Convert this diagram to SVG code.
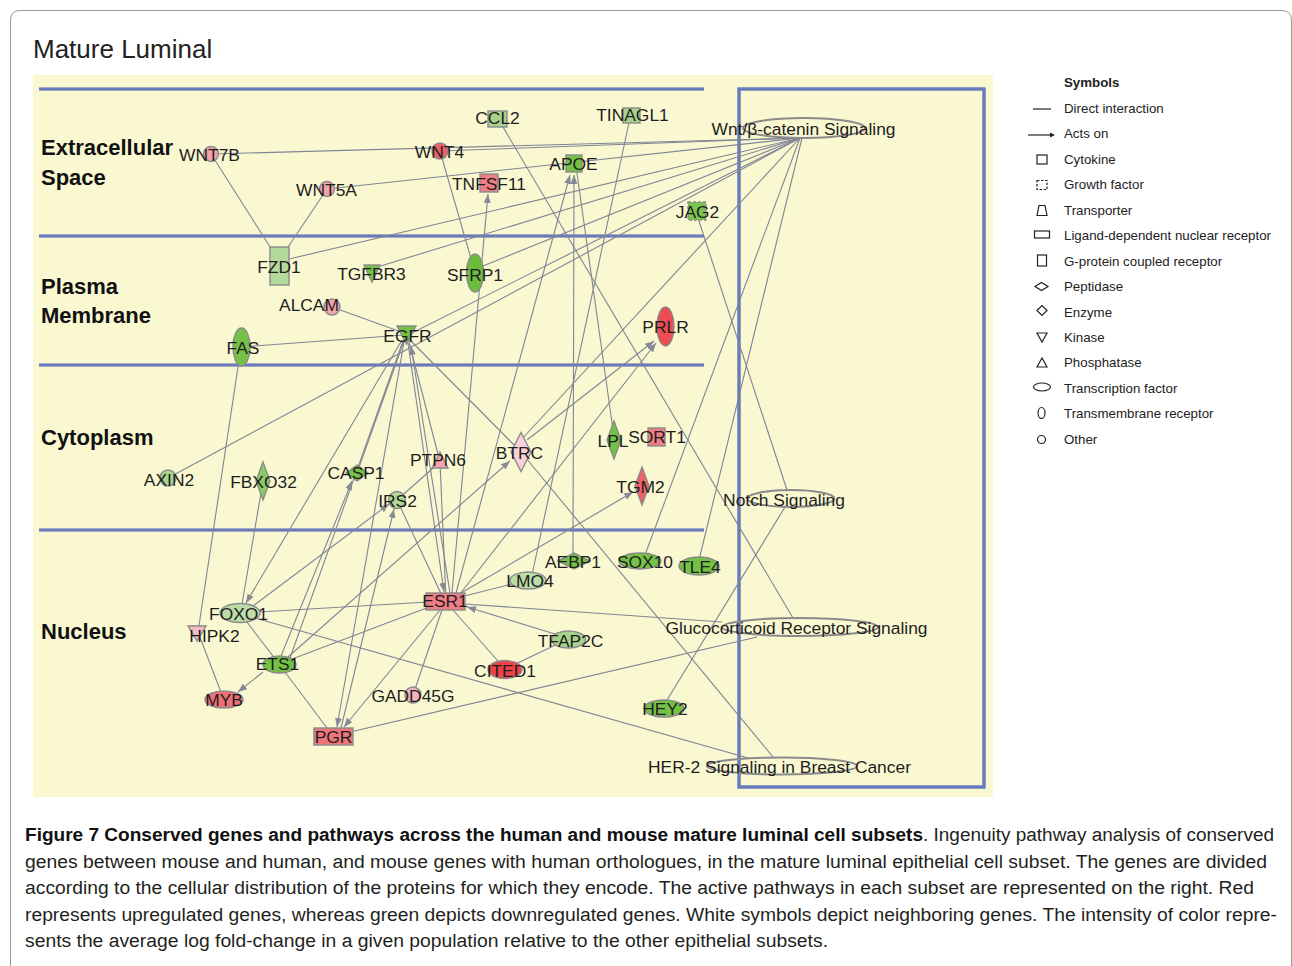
<svg xmlns="http://www.w3.org/2000/svg" width="1292" height="966" viewBox="0 0 1292 966">
<defs>
<marker id="ah" markerUnits="userSpaceOnUse" markerWidth="10" markerHeight="8" refX="9" refY="3.5" orient="auto"><path d="M0,0 L9,3.5 L0,7 z" fill="#858a96"/></marker>
<style>
.e{stroke:#7f8594;stroke-width:1.1;fill:none}
.a{stroke:#7f8594;stroke-width:1.1;fill:none;marker-end:url(#ah)}
.n{stroke:#8a8a8a;stroke-width:1.4}
.pw{fill:none;stroke:#8a8a8a;stroke-width:2}
.t{font-family:"Liberation Sans",Arial,sans-serif;font-size:17.4px;fill:#1e1e1e;text-anchor:middle}
.sec{font-family:"Liberation Sans",Arial,sans-serif;font-size:22px;font-weight:bold;fill:#111}
.d1{stroke:#4a60b0;stroke-width:3.2}
.d2{stroke:#8e9ccf;stroke-width:0.9}
.lg{font-family:"Liberation Sans",Arial,sans-serif;font-size:13.3px;fill:#222}
.li{fill:none;stroke:#222;stroke-width:1.2}
.cap{font-family:"Liberation Sans",Arial,sans-serif;font-size:18px;fill:#231f20}
.capb{font-family:"Liberation Sans",Arial,sans-serif;font-size:18px;font-weight:bold;fill:#111}
.pink{fill:#f4a3ab}.lpink{fill:#f8d0d9}.red{fill:#ee6268}.mred{fill:#f07d83}
.g{fill:#74c146}.lg1{fill:#a9d38d}.lg2{fill:#bcdca8}
</style>
</defs>
<rect x="0" y="0" width="1292" height="966" fill="#ffffff"/>
<path d="M10.5,980 L10.5,20 Q10.5,10.5 20,10.5 L1282,10.5 Q1291.5,10.5 1291.5,20 L1291.5,980" fill="none" stroke="#9a9a9a" stroke-width="1"/>
<text x="33" y="58" font-family="'Liberation Sans',Arial,sans-serif" font-size="26" fill="#222">Mature Luminal</text>
<rect x="33" y="75" width="960" height="722" fill="#faf8d1"/>
<g id="compartments">
<line class="d1" x1="39" y1="89" x2="704" y2="89" stroke="#6878b0"/><line class="d2" x1="39" y1="89" x2="704" y2="89"/>
<line class="d1" x1="39" y1="236" x2="704" y2="236"/><line class="d2" x1="39" y1="236" x2="704" y2="236"/>
<line class="d1" x1="39" y1="365" x2="704" y2="365"/><line class="d2" x1="39" y1="365" x2="704" y2="365"/>
<line class="d1" x1="39" y1="530" x2="704" y2="530"/><line class="d2" x1="39" y1="530" x2="704" y2="530"/>
<rect x="739" y="89" width="245" height="698" fill="none" class="d1"/>
<rect x="739" y="89" width="245" height="698" fill="none" class="d2"/>
<text class="sec" x="41" y="155">Extracellular</text>
<text class="sec" x="41" y="185">Space</text>
<text class="sec" x="41" y="294">Plasma</text>
<text class="sec" x="41" y="323">Membrane</text>
<text class="sec" x="41" y="445">Cytoplasm</text>
<text class="sec" x="41" y="639">Nucleus</text>
</g>
<g id="connectors">
<line class="e" x1="211" y1="154" x2="800" y2="138"/>
<line class="e" x1="327" y1="189" x2="800" y2="138"/>
<line class="e" x1="440" y1="151" x2="800" y2="138"/>
<line class="e" x1="285" y1="260" x2="800" y2="138"/>
<line class="e" x1="374" y1="268" x2="800" y2="138"/>
<line class="e" x1="478" y1="268" x2="800" y2="138"/>
<line class="e" x1="410" y1="334" x2="800" y2="138"/>
<line class="e" x1="168" y1="478" x2="800" y2="138"/>
<line class="e" x1="521" y1="440" x2="800" y2="138"/>
<line class="e" x1="645" y1="555" x2="800" y2="138"/>
<line class="e" x1="699" y1="560" x2="802" y2="138"/>
<line class="e" x1="211" y1="154" x2="272" y2="250"/>
<line class="e" x1="327" y1="189" x2="286" y2="250"/>
<line class="e" x1="440" y1="151" x2="472" y2="262"/>
<line class="e" x1="500" y1="122" x2="793" y2="618"/>
<line class="e" x1="630" y1="118" x2="532" y2="575"/>
<line class="e" x1="576" y1="166" x2="613" y2="430"/>
<line class="e" x1="697" y1="215" x2="787" y2="490"/>
<line class="e" x1="664" y1="705" x2="785" y2="507"/>
<line class="e" x1="332" y1="307" x2="404" y2="333"/>
<line class="e" x1="241" y1="347" x2="404" y2="335"/>
<line class="e" x1="241" y1="347" x2="198" y2="632"/>
<line class="e" x1="198" y1="632" x2="222" y2="695"/>
<line class="e" x1="263" y1="481" x2="241" y2="610"/>
<line class="e" x1="405" y1="338" x2="357" y2="473"/>
<line class="e" x1="408" y1="338" x2="521" y2="452"/>
<line class="e" x1="408" y1="338" x2="440" y2="462"/>
<line class="e" x1="404" y1="338" x2="290" y2="658"/>
<line class="e" x1="440" y1="462" x2="446" y2="600"/>
<line class="e" x1="397" y1="500" x2="440" y2="462"/>
<line class="e" x1="397" y1="500" x2="444" y2="600"/>
<line class="e" x1="240" y1="613" x2="445" y2="601"/>
<line class="e" x1="240" y1="613" x2="279" y2="664"/>
<line class="e" x1="255" y1="618" x2="748" y2="758"/>
<line class="e" x1="279" y1="664" x2="445" y2="601"/>
<line class="e" x1="279" y1="664" x2="333" y2="736"/>
<line class="e" x1="445" y1="601" x2="528" y2="580"/>
<line class="e" x1="445" y1="601" x2="505" y2="669"/>
<line class="e" x1="568" y1="639" x2="505" y2="669"/>
<line class="e" x1="445" y1="601" x2="413" y2="695"/>
<line class="e" x1="465" y1="604" x2="722" y2="622"/>
<line class="e" x1="333" y1="736" x2="757" y2="637"/>
<line class="e" x1="521" y1="452" x2="773" y2="757"/>
<line class="a" x1="452" y1="593" x2="488" y2="194"/>
<line class="a" x1="456" y1="593" x2="570" y2="175"/>
<line class="a" x1="573" y1="554" x2="574" y2="175"/>
<line class="a" x1="460" y1="594" x2="656" y2="343"/>
<line class="a" x1="527" y1="440" x2="654" y2="341"/>
<line class="a" x1="456" y1="596" x2="633" y2="492"/>
<line class="a" x1="440" y1="610" x2="344" y2="727"/>
<line class="a" x1="404" y1="342" x2="337" y2="727"/>
<line class="a" x1="408" y1="343" x2="444" y2="592"/>
<line class="a" x1="450" y1="593" x2="411" y2="346"/>
<line class="a" x1="402" y1="340" x2="246" y2="603"/>
<line class="a" x1="253" y1="606" x2="389" y2="504"/>
<line class="a" x1="341" y1="728" x2="394" y2="509"/>
<line class="a" x1="281" y1="656" x2="352" y2="481"/>
<line class="a" x1="288" y1="657" x2="510" y2="461"/>
<line class="a" x1="263" y1="672" x2="238" y2="692"/>
<line class="a" x1="555" y1="634" x2="467" y2="607"/>
</g>
<g id="n-WNT7B"><circle class="n pink" cx="211" cy="154" r="7.5"/><text class="t" x="209.5" y="161">WNT7B</text></g>
<g id="n-WNT5A"><circle class="n pink" cx="327" cy="189" r="7.5"/><text class="t" x="326.5" y="196">WNT5A</text></g>
<g id="n-WNT4"><circle class="n red" cx="440" cy="151" r="8"/><text class="t" x="439.5" y="158">WNT4</text></g>
<g id="n-CCL2"><rect class="n lg1" x="488" y="111" width="19" height="16"/><text class="t" x="497.5" y="124">CCL2</text></g>
<g id="n-TINAGL1"><rect class="n lg1" x="623" y="108" width="17" height="15"/><text class="t" x="632.5" y="121">TINAGL1</text></g>
<g id="n-APOE"><rect class="n g" x="566" y="155" width="16" height="17"/><text class="t" x="573.5" y="170">APOE</text></g>
<g id="n-TNFSF11"><rect class="n mred" x="480" y="174" width="18" height="18"/><text class="t" x="489" y="190">TNFSF11</text></g>
<g id="n-JAG2"><rect class="n" fill="#7cc250" stroke-dasharray="3,2" x="688" y="202" width="18" height="18"/><text class="t" x="697.5" y="218">JAG2</text></g>
<g id="n-FZD1"><rect class="n" fill="#b4d99c" x="270" y="247" width="19" height="38"/><text class="t" x="279" y="273">FZD1</text></g>
<g id="n-TGFBR3"><polygon class="n g" points="364,265 380,265 372,282"/><text class="t" x="371.5" y="280">TGFBR3</text></g>
<g id="n-SFRP1"><ellipse class="n" fill="#6cbd3c" cx="475" cy="273" rx="8.5" ry="19"/><text class="t" x="475" y="281">SFRP1</text></g>
<g id="n-ALCAM"><circle class="n pink" cx="332" cy="307" r="8"/><text class="t" x="309" y="311">ALCAM</text></g>
<g id="n-FAS"><ellipse class="n g" cx="241.5" cy="347" rx="8.5" ry="19"/><text class="t" x="243" y="354">FAS</text></g>
<g id="n-EGFR"><polygon class="n g" points="397,326 416,326 406.5,344"/><text class="t" x="407.5" y="342">EGFR</text></g>
<g id="n-PRLR"><ellipse class="n" fill="#ee4c52" cx="665.5" cy="326.5" rx="8.5" ry="19.5"/><text class="t" x="665.5" y="333">PRLR</text></g>
<g id="n-AXIN2"><circle class="n lg1" cx="168" cy="478" r="8"/><text class="t" x="169" y="486">AXIN2</text></g>
<g id="n-FBXO32"><polygon class="n" fill="#8cc866" points="263,462 270,481 263,500 256,481"/><text class="t" x="263.5" y="488">FBXO32</text></g>
<g id="n-CASP1"><polygon class="n g" points="346,473 357,465 368,473 357,481"/><text class="t" x="356" y="479">CASP1</text></g>
<g id="n-PTPN6"><polygon class="n pink" points="432,468 448,468 440,452"/><text class="t" x="438" y="466">PTPN6</text></g>
<g id="n-IRS2"><circle class="n" fill="#b0d896" cx="397" cy="500" r="8.5"/><text class="t" x="397.5" y="507">IRS2</text></g>
<g id="n-BTRC"><polygon class="n lpink" points="521,432.5 531,452 521,471.5 511,452"/><text class="t" x="519.5" y="459">BTRC</text></g>
<g id="n-LPL"><polygon class="n g" points="614,421 621,440 614,459 607,440"/><text class="t" x="613" y="447">LPL</text></g>
<g id="n-SORT1"><rect class="n mred" x="648" y="428" width="17" height="18"/><text class="t" x="657" y="443">SORT1</text></g>
<g id="n-TGM2"><polygon class="n red" points="642,467 649,486 642,505 635,486"/><text class="t" x="640.5" y="493">TGM2</text></g>
<g id="n-FOXO1"><ellipse class="n lg2" cx="240" cy="613" rx="20" ry="9.5"/><text class="t" x="238.5" y="620">FOXO1</text></g>
<g id="n-HIPK2"><polygon class="n" fill="#f7b8c5" points="188,626 206,626 197,641"/><text class="t" x="214.5" y="642">HIPK2</text></g>
<g id="n-ETS1"><ellipse class="n g" cx="279.5" cy="664.5" rx="16.5" ry="8.5"/><text class="t" x="277.5" y="670">ETS1</text></g>
<g id="n-MYB"><ellipse class="n" fill="#ef6f76" cx="224" cy="699.5" rx="19" ry="8.5"/><text class="t" x="224" y="706">MYB</text></g>
<g id="n-PGR"><rect class="n" fill="#ef757b" x="314" y="728" width="39" height="17"/><text class="t" x="333.5" y="743">PGR</text></g>
<g id="n-ESR1"><rect class="n mred" x="426" y="593" width="39" height="17"/><text class="t" x="445" y="607">ESR1</text></g>
<g id="n-LMO4"><ellipse class="n lg2" cx="528" cy="580.5" rx="18" ry="8.5"/><text class="t" x="530" y="587">LMO4</text></g>
<g id="n-AEBP1"><polygon class="n g" points="558,561 574,553 590,561 574,569"/><text class="t" x="573" y="568">AEBP1</text></g>
<g id="n-SOX10"><ellipse class="n g" cx="640" cy="561" rx="21" ry="8"/><text class="t" x="645" y="568">SOX10</text></g>
<g id="n-TLE4"><ellipse class="n g" cx="699" cy="566" rx="20" ry="9"/><text class="t" x="700" y="573">TLE4</text></g>
<g id="n-TFAP2C"><ellipse class="n lg1" cx="568.5" cy="639.5" rx="17" ry="8.5"/><text class="t" x="570.5" y="647">TFAP2C</text></g>
<g id="n-CITED1"><ellipse class="n" fill="#ec4248" cx="505" cy="669.5" rx="17" ry="9"/><text class="t" x="505" y="677">CITED1</text></g>
<g id="n-GADD45G"><circle class="n" fill="#f5b2bd" cx="413" cy="695" r="8"/><text class="t" x="413" y="702">GADD45G</text></g>
<g id="n-HEY2"><ellipse class="n g" cx="664" cy="708.5" rx="20" ry="8.5"/><text class="t" x="665" y="715">HEY2</text></g>
<g id="p-Wnt"><ellipse class="pw" cx="804" cy="128" rx="61" ry="10"/><text class="t" x="803.5" y="135">Wnt/β-catenin Signaling</text></g>
<g id="p-Notch"><ellipse class="pw" cx="791" cy="498.5" rx="43.5" ry="8.5"/><text class="t" x="784" y="506">Notch Signaling</text></g>
<g id="p-Gluco"><ellipse class="pw" cx="800" cy="627" rx="78" ry="9"/><text class="t" x="796.5" y="634">Glucocorticoid Receptor Signaling</text></g>
<g id="p-HER2"><ellipse class="pw" cx="782" cy="766" rx="75" ry="8.5"/><text class="t" x="779.5" y="773">HER-2 Signaling in Breast Cancer</text></g>
<g id="legend">
<text class="lg" x="1064" y="87" font-weight="bold">Symbols</text>
<line class="li" x1="1033" y1="109" x2="1051" y2="109"/><text class="lg" x="1064" y="113">Direct interaction</text>
<line class="li" x1="1028" y1="135" x2="1051" y2="135"/><path d="M1050,132.5 L1055,135 L1050,137.5 z" fill="#222"/><text class="lg" x="1064" y="138">Acts on</text>
<rect class="li" x="1037" y="155" width="10" height="9"/><text class="lg" x="1064" y="164">Cytokine</text>
<rect class="li" x="1037" y="180.5" width="10" height="9" stroke-dasharray="2.5,1.5"/><text class="lg" x="1064" y="189">Growth factor</text>
<polygon class="li" points="1037,215.5 1047,215.5 1045,205.5 1039,205.5"/><text class="lg" x="1064" y="215">Transporter</text>
<rect class="li" x="1034.5" y="231" width="15" height="7"/><text class="lg" x="1064" y="240">Ligand-dependent nuclear receptor</text>
<rect class="li" x="1037.5" y="255" width="9" height="11"/><text class="lg" x="1064" y="266">G-protein coupled receptor</text>
<polygon class="li" points="1035,286.5 1041.5,282.5 1048,286.5 1041.5,290.5"/><text class="lg" x="1064" y="291">Peptidase</text>
<polygon class="li" points="1037,310.5 1042,305.5 1047,310.5 1042,315.5"/><text class="lg" x="1064" y="317">Enzyme</text>
<polygon class="li" points="1037,333 1047,333 1042,342"/><text class="lg" x="1064" y="342">Kinase</text>
<polygon class="li" points="1037,367 1047,367 1042,358"/><text class="lg" x="1064" y="367">Phosphatase</text>
<ellipse class="li" cx="1042" cy="387" rx="8.5" ry="4"/><text class="lg" x="1064" y="393">Transcription factor</text>
<ellipse class="li" cx="1041.5" cy="413" rx="3.5" ry="5.5"/><text class="lg" x="1064" y="418">Transmembrane receptor</text>
<circle class="li" cx="1041.5" cy="439.5" r="4"/><text class="lg" x="1064" y="444">Other</text>
</g>
<g id="caption">
<text class="capb" x="25" y="841" textLength="898" lengthAdjust="spacingAndGlyphs">Figure 7 Conserved genes and pathways across the human and mouse mature luminal cell subsets</text>
<text class="cap" x="923" y="841" textLength="351" lengthAdjust="spacingAndGlyphs">. Ingenuity pathway analysis of conserved</text>
<text class="cap" x="25" y="868" textLength="1242" lengthAdjust="spacingAndGlyphs">genes between mouse and human, and mouse genes with human orthologues, in the mature luminal epithelial cell subset. The genes are divided</text>
<text class="cap" x="25" y="894" textLength="1229" lengthAdjust="spacingAndGlyphs">according to the cellular distribution of the proteins for which they encode. The active pathways in each subset are represented on the right. Red</text>
<text class="cap" x="25" y="921" textLength="1252" lengthAdjust="spacingAndGlyphs">represents upregulated genes, whereas green depicts downregulated genes. White symbols depict neighboring genes. The intensity of color repre-</text>
<text class="cap" x="25" y="947" textLength="803" lengthAdjust="spacingAndGlyphs">sents the average log fold-change in a given population relative to the other epithelial subsets.</text>
</g>
</svg>
